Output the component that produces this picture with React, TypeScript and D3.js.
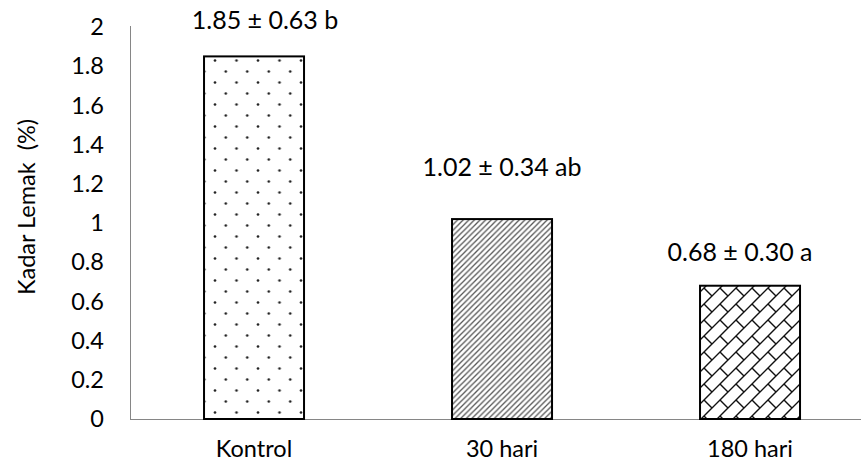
import React from "react";
import * as d3 from "d3";

const categories = ["Kontrol", "30 hari", "180 hari"];
const values = [1.85, 1.02, 0.68];
const annotations = ["1.85 ± 0.63 b", "1.02 ± 0.34 ab", "0.68 ± 0.30 a"];
const yTicks = [0, 0.2, 0.4, 0.6, 0.8, 1, 1.2, 1.4, 1.6, 1.8, 2];
const patterns = ["dots", "diag", "brick"];

const W = 861;
const H = 466;
const FONT = "Lato, 'Open Sans', sans-serif";

export default function App() {
  const x = d3.scaleBand<string>().domain(categories).range([130, 874]).paddingInner(0.597).paddingOuter(0.2985);
  const y = d3.scaleLinear().domain([0, 2]).range([419, 27]);
  const bw = 100;
  const labelDx = [11, 0, -10];
  const labelDy = [-36, -52, -33];

  return (
    <svg width={W} height={H} style={{ position: "absolute", left: 0, top: 0, display: "block", background: "#fff" }}>
      <defs>
        <pattern id="dots" width={21.5} height={22} patternUnits="userSpaceOnUse">
          <rect width={21.5} height={22} fill="#fff" />
          <circle cx={10.75} cy={5.5} r={1.3} fill="#222" />
          <circle cx={0} cy={16.5} r={1.3} fill="#222" />
          <circle cx={21.5} cy={16.5} r={1.3} fill="#222" />
        </pattern>
        <pattern id="diag" width={5.6} height={5.6} patternUnits="userSpaceOnUse">
          <rect width={5.6} height={5.6} fill="#fff" />
          <path d="M-1.4,1.4 L1.4,-1.4 M0,5.6 L5.6,0 M4.2,7 L7,4.2" stroke="#555" strokeWidth={1.3} />
        </pattern>
        <pattern id="brick" width={16} height={16} patternUnits="userSpaceOnUse">
          <rect width={16} height={16} fill="#fff" />
          <path d="M-2,2 L2,-2 M0,16 L16,0 M14,18 L18,14 M0,0 L8,8" stroke="#111" strokeWidth={1.4} />
        </pattern>
      </defs>

      {/* axes */}
      <line x1={130.5} x2={130.5} y1={26} y2={419} stroke="#868686" strokeWidth={1} />
      <line x1={130} x2={861} y1={419.5} y2={419.5} stroke="#868686" strokeWidth={1} />

      {yTicks.map((t) => (
        <text key={t} x={104} y={y(t)} dy="0.35em" textAnchor="end" fontFamily={FONT} fontSize={23.5} fill="#000">
          {t}
        </text>
      ))}

      {categories.map((c, i) => {
        const x0 = (x(c) as number);
        return (
          <g key={c}>
            <rect x={x0} y={y(values[i])} width={bw} height={y(0) - y(values[i])} fill={`url(#${patterns[i]})`} stroke="#000" strokeWidth={2} />
            <text x={x0 + bw / 2} y={457} textAnchor="middle" fontFamily={FONT} fontSize={23.5} fill="#000">
              {c}
            </text>
            <text x={x0 + bw / 2 + labelDx[i]} y={y(values[i]) + labelDy[i]} dy="0.35em" textAnchor="middle" fontFamily={FONT} fontSize={25} fill="#000">
              {annotations[i]}
            </text>
          </g>
        );
      })}

      <text transform="translate(35,207) rotate(-90)" textAnchor="middle" fontFamily={FONT} fontSize={23.5} fill="#000" xmlSpace="preserve">
        {"Kadar Lemak  (%)"}
      </text>
    </svg>
  );
}
